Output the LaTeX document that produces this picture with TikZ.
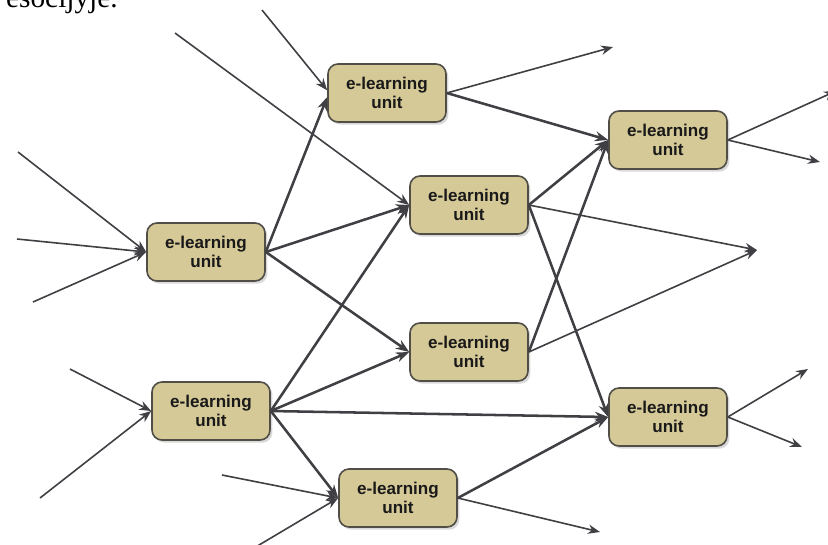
\documentclass[tikz,border=0pt]{standalone}
\usepackage{fontspec}
\setmainfont{Liberation Sans}
\newfontfamily\serifpart{Liberation Serif}
\usetikzlibrary{arrows.meta,shadows}
\definecolor{boxfill}{RGB}{214,201,152}
\definecolor{boxline}{RGB}{80,78,70}
\definecolor{edgecol}{RGB}{64,64,68}
\begin{document}
\begin{tikzpicture}[x=0.75pt,y=-0.75pt,
 unitbox/.style={draw=boxline, line width=1.2pt, fill=boxfill, rounded corners=7.5pt,
   minimum width=88.5pt, minimum height=43.5pt, align=center,
   font=\bfseries\fontsize{12.8}{14.5}\selectfont, text=black!90, inner sep=0pt,
   drop shadow={opacity=0.3, shadow xshift=1.8pt, shadow yshift=-2pt}},
 link/.style={draw=edgecol, line width=1.9pt, -{Stealth[length=10pt,width=7.5pt]}},
 free/.style={draw=edgecol, line width=1.2pt, -{Stealth[length=9pt,width=7pt]}}]
\useasboundingbox (0,0) rectangle (828,544);
\node[anchor=base east, font=\serifpart\fontsize{22}{26}\selectfont, inner sep=0pt] (cut) at (118,7) {esocijyje.};

\node[unitbox] (L1) at (206,252) {e-learning\\unit};
\node[unitbox] (L2) at (211,411) {e-learning\\unit};
\node[unitbox] (N1) at (387,93) {e-learning\\unit};
\node[unitbox] (N2) at (469,205) {e-learning\\unit};
\node[unitbox] (N3) at (469,352) {e-learning\\unit};
\node[unitbox] (B) at (398,498) {e-learning\\unit};
\node[unitbox] (R1) at (668,140) {e-learning\\unit};
\node[unitbox] (R2) at (668,417) {e-learning\\unit};

\coordinate (a1) at (18,152);
\coordinate (a2) at (17,239);
\coordinate (a3) at (33,302);
\coordinate (b1) at (70,369);
\coordinate (b2) at (40,498);
\coordinate (c1) at (222,475);
\coordinate (c2) at (254,548);
\coordinate (d1) at (262,10);
\coordinate (e1) at (175,33);
\coordinate (f1) at (613,47);
\coordinate (g1) at (757,250);
\coordinate (h1) at (600,532);
\coordinate (i1) at (836,91);
\coordinate (i2) at (820,162);
\coordinate (j1) at (808,369);
\coordinate (j2) at (802,447);

% incoming free lines
\draw[free] (a1) -- (L1.west);
\draw[free] (a2) -- (L1.west);
\draw[free] (a3) -- (L1.west);
\draw[free] (b1) -- (L2.west);
\draw[free] (b2) -- (L2.west);
\draw[free] (c1) -- (B.west);
\draw[free] (c2) -- (B.west);
\draw[free] (d1) -- ([yshift=2pt]N1.west);
\draw[free] (e1) -- (N2.west);

% links between units
\draw[link] (L1.east) -- ([yshift=-3pt]N1.west);
\draw[link] (L1.east) -- (N2.west);
\draw[link] (L1.east) -- (N3.west);
\draw[link] (L2.east) -- (N2.west);
\draw[link] (L2.east) -- (N3.west);
\draw[link] (L2.east) -- (R2.west);
\draw[link] (L2.east) -- (B.west);
\draw[link] (N1.east) -- (R1.west);
\draw[link] (N2.east) -- (R1.west);
\draw[link] (N2.east) -- (R2.west);
\draw[link] (N3.east) -- (R1.west);
\draw[link] (B.east) -- (R2.west);

% outgoing free lines
\draw[free] (N1.east) -- (f1);
\draw[free] (N2.east) -- (g1);
\draw[free] (N3.east) -- (g1);
\draw[free] (B.east) -- (h1);
\draw[free] (R1.east) -- (i1);
\draw[free] (R1.east) -- (i2);
\draw[free] (R2.east) -- (j1);
\draw[free] (R2.east) -- (j2);
\end{tikzpicture}
\end{document}
